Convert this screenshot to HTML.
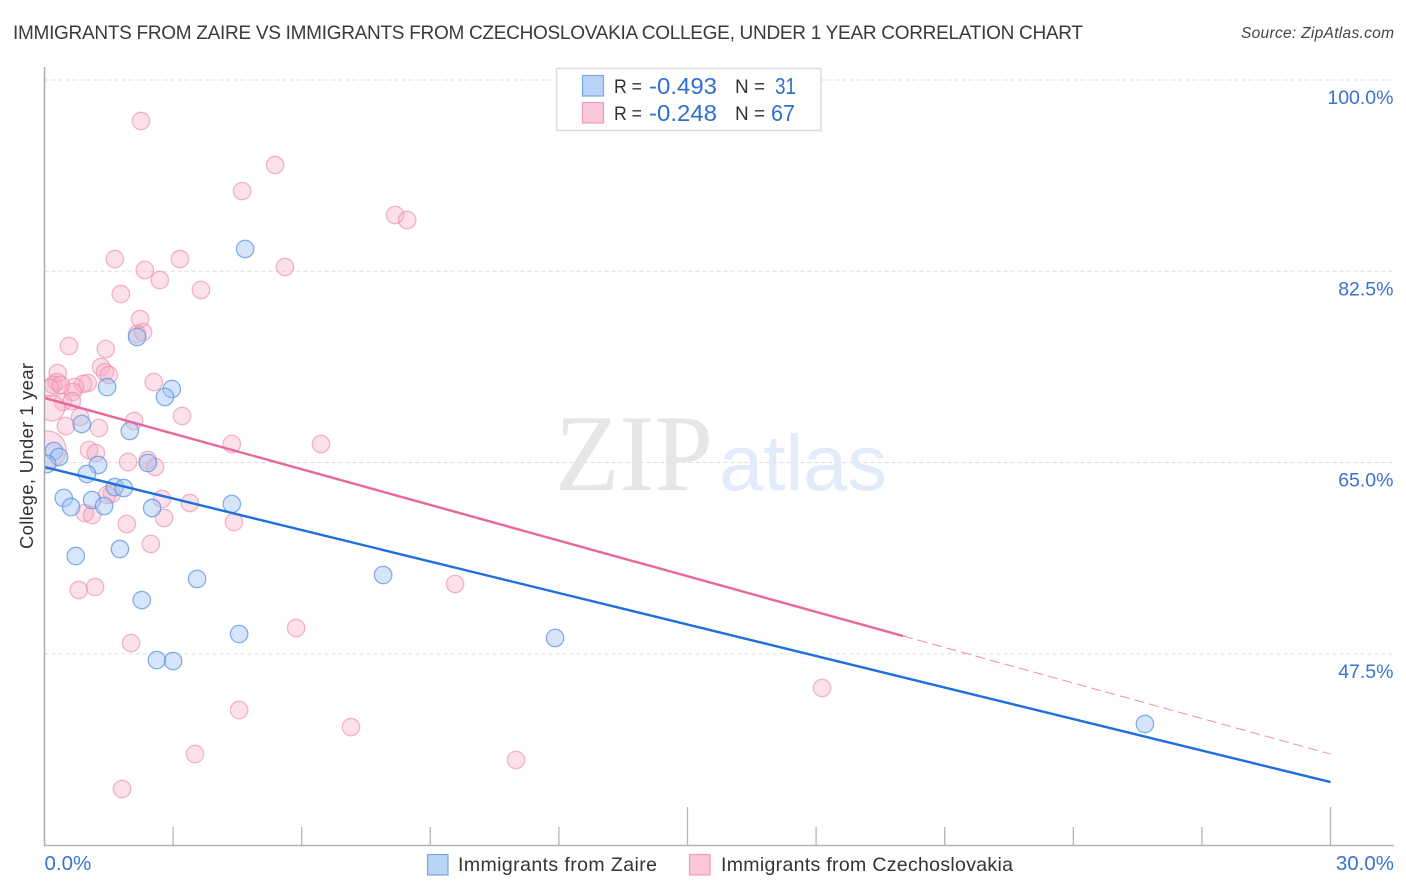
<!DOCTYPE html>
<html>
<head>
<meta charset="utf-8">
<title>Immigrants from Zaire vs Immigrants from Czechoslovakia</title>
<style>
html,body{margin:0;padding:0;background:#fff;}
svg{display:block;font-family:"Liberation Sans",sans-serif;}
</style>
</head>
<body>
<svg id="chart" width="1406" height="892" viewBox="0 0 1406 892" xmlns="http://www.w3.org/2000/svg">
  <defs><clipPath id="plot-clip"><rect x="45" y="60" width="1350" height="785"/></clipPath></defs>
  <rect x="0" y="0" width="1406" height="892" fill="#ffffff"/>
  <text x="13" y="39" font-size="19" fill="#3a3a3a" textLength="1070" lengthAdjust="spacing">IMMIGRANTS FROM ZAIRE VS IMMIGRANTS FROM CZECHOSLOVAKIA COLLEGE, UNDER 1 YEAR CORRELATION CHART</text>
  <text x="1394" y="38" font-size="15.5" font-style="italic" fill="#444" text-anchor="end" textLength="153" lengthAdjust="spacing">Source: ZipAtlas.com</text>

  <g id="grid"></g>

  <g>
    <text x="555" y="490" font-family="'Liberation Serif',serif" font-size="109" fill="#e6e6e6" textLength="158" lengthAdjust="spacingAndGlyphs">ZIP</text>
    <text x="719" y="490" font-size="79" fill="#e2ebf9" textLength="168" lengthAdjust="spacingAndGlyphs">atlas</text>
  </g>

  <g id="points-pink" clip-path="url(#plot-clip)"></g>
  <g id="points-blue" clip-path="url(#plot-clip)"></g>
  <g id="trends"></g>

  <g id="axes">
    <line x1="44.5" y1="67" x2="44.5" y2="845.5" stroke="#aaa" stroke-width="1.5"/>
    <line x1="44" y1="845.5" x2="1394" y2="845.5" stroke="#b5b5b5" stroke-width="1.5"/>
  </g>
  <g id="y-labels"></g>
  <g id="x-labels"></g>

  <text transform="translate(33,456) rotate(-90)" font-size="18.5" fill="#333" text-anchor="middle" textLength="186" lengthAdjust="spacing">College, Under 1 year</text>

  <g>
    <rect x="556.5" y="68.5" width="264.5" height="62" fill="#fff" stroke="#ddd" stroke-width="1.5"/>
    <rect x="582.5" y="75.5" width="21" height="20.5" fill="#b9d3f6" stroke="#76a7e6" stroke-width="1.2"/>
    <rect x="582.5" y="102.5" width="21" height="20.5" fill="#fcc8d9" stroke="#ef9dbb" stroke-width="1.2"/>
    <g font-size="19.5" fill="#333">
      <text x="614" y="93" textLength="28" lengthAdjust="spacingAndGlyphs">R =</text>
      <text x="735" y="93" textLength="30" lengthAdjust="spacingAndGlyphs">N =</text>
      <text x="614" y="120" textLength="28" lengthAdjust="spacingAndGlyphs">R =</text>
      <text x="735" y="120" textLength="30" lengthAdjust="spacingAndGlyphs">N =</text>
    </g>
    <g font-size="23" fill="#2f6fd0">
      <text x="649" y="94" textLength="68" lengthAdjust="spacingAndGlyphs">-0.493</text>
      <text x="775" y="94" textLength="21" lengthAdjust="spacingAndGlyphs">31</text>
      <text x="649" y="121" textLength="68" lengthAdjust="spacingAndGlyphs">-0.248</text>
      <text x="771" y="121" textLength="24" lengthAdjust="spacingAndGlyphs">67</text>
    </g>
  </g>

  <g>
    <rect x="427.5" y="854.5" width="20.5" height="20.5" fill="#b9d3f6" stroke="#76a7e6" stroke-width="1.2"/>
    <text x="458" y="871" font-size="19.5" fill="#333" textLength="199" lengthAdjust="spacing">Immigrants from Zaire</text>
    <rect x="689.5" y="854.5" width="20.5" height="20.5" fill="#fcc8d9" stroke="#ef9dbb" stroke-width="1.2"/>
    <text x="721" y="871" font-size="19.5" fill="#333" textLength="292" lengthAdjust="spacing">Immigrants from Czechoslovakia</text>
  </g>
</svg>
<script>
const zaireX = [4.68,2.16,2.97,2.81,1.46,1.99,0.87,0.22,0.34,0.06,1.25,0.99,0.45,1.11,0.62,1.39,1.64,1.85,2.51,4.37,2.41,1.76,0.73,3.56,2.27,7.90,4.54,11.91,2.62,3.00,25.67];
const zaireY = [84.54,76.49,71.73,71.00,71.91,67.89,68.53,66.06,65.51,64.87,64.78,63.95,61.76,61.57,60.93,61.02,62.76,62.67,60.84,61.21,64.96,57.09,56.45,54.35,52.42,54.71,49.31,48.95,46.93,46.84,41.08];
const czechX = [2.25,5.38,4.61,8.18,8.46,1.64,3.16,2.34,5.61,2.69,3.65,1.78,2.23,2.16,2.30,0.57,1.43,1.32,1.41,1.50,2.55,0.31,0.29,0.20,0.13,1.01,0.90,0.71,0.66,0.43,0.64,0.17,3.21,0.83,0.50,1.27,2.09,4.37,6.45,1.04,1.20,1.95,2.41,2.58,2.74,1.57,1.46,3.39,0.94,1.11,1.92,2.79,4.42,2.48,0.80,1.18,5.87,9.58,2.02,18.14,4.54,7.15,3.51,11.00,1.81,0.06,0.38];
const czechY = [96.25,92.22,89.84,87.65,87.19,83.62,83.62,82.62,82.89,81.70,80.79,80.42,78.13,76.76,76.94,75.66,75.39,73.74,73.28,73.01,72.37,73.19,72.37,72.10,71.82,72.28,72.19,71.91,71.45,70.54,70.63,69.99,69.26,69.17,68.34,68.16,68.80,66.70,66.70,66.15,65.87,65.05,65.23,64.59,61.67,62.12,62.03,61.30,60.38,60.20,59.38,59.93,59.56,57.55,53.34,53.61,49.86,53.89,48.49,44.37,42.36,40.80,38.33,37.79,35.13,66.15,72.10];
const czechWeight = [1,1,1,1,1,1,1,1,1,1,1,1,1,1,1,1,1,1,1,1,1,1,1,1,1,1,1,1,1,1,1,2.2,1,1,1,1,1,1,1,1,1,1,1,1,1,1,1,1,1,1,1,1,1,1,1,1,1,1,1,1,1,1,1,1,1,4.8,1];
const zaireTrendX = [0,30];
const zaireTrendY = [64.59,35.77];
const czechTrendX = [0,20.03];
const czechTrendY = [70.91,49.13];
const czechDashX = [20.03,30];
const czechDashY = [49.13,38.33];
const yTicks = [100,82.5,65,47.5];
const yTickLabels = ["100.0%","82.5%","65.0%","47.5%"];
const xTicks = [0,3,6,9,12,15,18,21,24,27,30];
const xMajorTicks = [15,30];
const xEndTicks = [0,30];
const xEndLabels = ["0.0%","30.0%"];

const NS = "http://www.w3.org/2000/svg";
function xPos(v){ return 44.5 + v * 42.867; }
function yPos(v){ return 80 + (100 - v) * 10.93; }
function mk(tag, parent, attrs){
  const el = document.createElementNS(NS, tag);
  for (const k in attrs) el.setAttribute(k, attrs[k]);
  parent.appendChild(el);
  return el;
}

const grid = document.getElementById('grid');
yTicks.forEach(function(t){
  const el = mk('line', grid, {x1:44.5, x2:1394, y1:yPos(t), y2:yPos(t), stroke:'#dedede', 'stroke-width':1, 'stroke-dasharray':'4 3'});
  
  
});

const yLabels = document.getElementById('y-labels');
yTicks.forEach(function(t, i){
  const el = mk('text', yLabels, {x:1393.5, y:yPos(t)+24, 'font-size':19.5, fill:'#3b72cf', 'text-anchor':'end'});
  el.textContent = yTickLabels[i];
  
  
});

const axes = document.getElementById('axes');
xTicks.forEach(function(t){
  if (t === 0) return;
  const major = xMajorTicks.indexOf(t) >= 0;
  const el = mk('line', axes, {x1:xPos(t), x2:xPos(t), y1:major ? 807 : 827, y2:845.5, stroke:'#b5b5b5', 'stroke-width':1.3});
  
  
});

const xLabels = document.getElementById('x-labels');
xEndTicks.forEach(function(t, i){
  const el = mk('text', xLabels, {x:i === 0 ? xPos(t) : xPos(t)+63.5, y:870, 'font-size':20.5, fill:'#3b72cf', 'text-anchor':i === 0 ? 'start' : 'end'});
  el.textContent = xEndLabels[i];
  
  
});

const pinkG = document.getElementById('points-pink');
czechX.forEach(function(v, i){
  const el = mk('circle', pinkG, {cx:xPos(v), cy:yPos(czechY[i]), r:8.7*Math.sqrt(czechWeight[i]), fill:'#f8a9c4', 'fill-opacity':0.36, stroke:'#ea88aa', 'stroke-opacity':0.6, 'stroke-width':1.3});
  
  
});

const blueG = document.getElementById('points-blue');
zaireX.forEach(function(v, i){
  const el = mk('circle', blueG, {cx:xPos(v), cy:yPos(zaireY[i]), r:8.7, fill:'#a3c6f2', 'fill-opacity':0.45, stroke:'#5d97e4', 'stroke-opacity':0.75, 'stroke-width':1.3});
  
  
});

const trends = document.getElementById('trends');
const blueLine = mk('line', trends, {x1:xPos(zaireTrendX[0]), y1:yPos(zaireTrendY[0]), x2:xPos(zaireTrendX[1]), y2:yPos(zaireTrendY[1]), stroke:'#1f6fdc', 'stroke-width':2.4});


const pinkLine = mk('line', trends, {x1:xPos(czechTrendX[0]), y1:yPos(czechTrendY[0]), x2:xPos(czechTrendX[1]), y2:yPos(czechTrendY[1]), stroke:'#e8679a', 'stroke-width':2.4});


const pinkDash = mk('line', trends, {x1:xPos(czechDashX[0]), y1:yPos(czechDashY[0]), x2:xPos(czechDashX[1]), y2:yPos(czechDashY[1]), stroke:'#ee8fb0', 'stroke-width':1, 'stroke-dasharray':'10 5'});


</script>
</body>
</html>
